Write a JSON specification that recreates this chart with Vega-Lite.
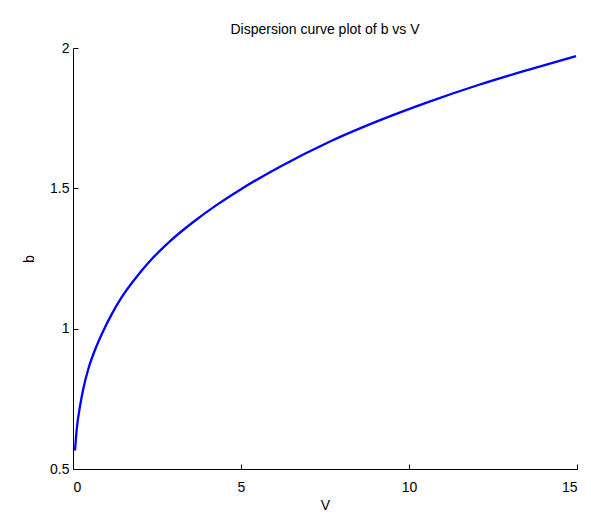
{
  "$schema": "https://vega.github.io/schema/vega-lite/v6.json",
  "autosize": {"type": "none"},
  "width": 504,
  "height": 421,
  "padding": {"left": 73, "top": 48, "right": 14, "bottom": 48},
  "background": "white",
  "title": {
    "text": "Dispersion curve plot of b vs V",
    "font": "Liberation Sans",
    "fontSize": 14,
    "fontWeight": "normal",
    "color": "black",
    "anchor": "middle",
    "offset": 4
  },
  "config": {
    "view": {"stroke": null},
    "axis": {
      "grid": false,
      "domainColor": "black",
      "domainWidth": 1,
      "tickColor": "black",
      "tickSize": -5,
      "labelColor": "black",
      "labelFont": "Liberation Sans",
      "labelFontSize": 14,
      "titleColor": "black",
      "titleFont": "Liberation Sans",
      "titleFontSize": 14,
      "titleFontWeight": "normal"
    }
  },
  "data": {
    "values": [
      {"V": 0.06, "b": 0.566},
      {"V": 0.11, "b": 0.64},
      {"V": 0.21, "b": 0.725},
      {"V": 0.31, "b": 0.788},
      {"V": 0.46, "b": 0.858},
      {"V": 0.65, "b": 0.923},
      {"V": 0.90, "b": 0.992},
      {"V": 1.15, "b": 1.051},
      {"V": 1.45, "b": 1.112},
      {"V": 1.85, "b": 1.178},
      {"V": 2.29, "b": 1.241},
      {"V": 2.89, "b": 1.312},
      {"V": 3.58, "b": 1.38},
      {"V": 4.28, "b": 1.441},
      {"V": 5.0, "b": 1.497},
      {"V": 6.16, "b": 1.577},
      {"V": 7.65, "b": 1.667},
      {"V": 9.14, "b": 1.743},
      {"V": 10.63, "b": 1.810},
      {"V": 12.11, "b": 1.870},
      {"V": 13.60, "b": 1.924},
      {"V": 14.97, "b": 1.971}
    ]
  },
  "mark": {"type": "line", "color": "#0000ff", "strokeWidth": 2.3, "interpolate": "monotone"},
  "encoding": {
    "x": {
      "field": "V",
      "type": "quantitative",
      "title": "V",
      "scale": {"domain": [0, 15], "nice": false},
      "axis": {"values": [0, 5, 10, 15], "labelPadding": 16, "titlePadding": 4}
    },
    "y": {
      "field": "b",
      "type": "quantitative",
      "title": "b",
      "scale": {"domain": [0.5, 2], "nice": false, "zero": false},
      "axis": {"values": [0.5, 1, 1.5, 2], "format": "~g", "labelPadding": 9, "titlePadding": 13}
    }
  }
}
